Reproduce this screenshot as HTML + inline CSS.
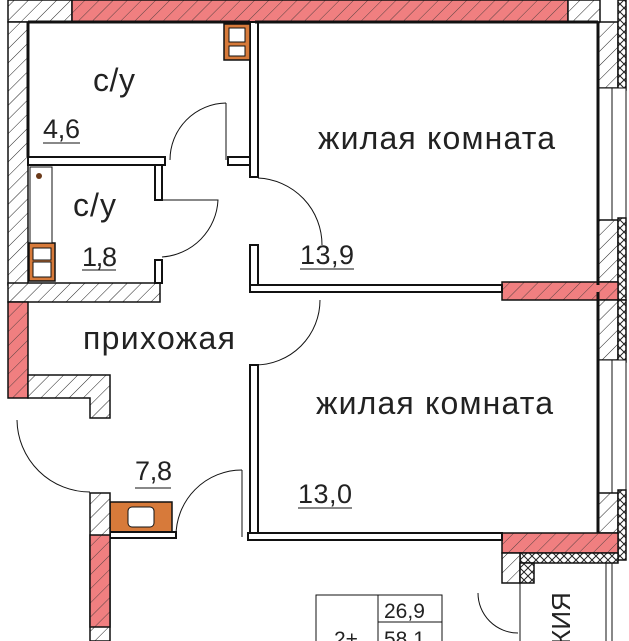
<!DOCTYPE html>
<html><head><meta charset="utf-8"><style>
html,body{margin:0;padding:0;background:#fff;width:629px;height:641px;overflow:hidden}
svg{display:block}
svg text{font-family:"Liberation Sans",sans-serif;fill:#222}
</style></head><body>
<svg width="629" height="641" viewBox="0 0 629 641" xmlns="http://www.w3.org/2000/svg" overflow="hidden">
<defs>
<pattern id="h" patternUnits="userSpaceOnUse" width="10" height="10" patternTransform="rotate(45)">
<rect width="10" height="10" fill="#fff"/><line x1="0" y1="0" x2="0" y2="10" stroke="#222" stroke-width="1"/></pattern>
<pattern id="hr" patternUnits="userSpaceOnUse" width="10" height="10" patternTransform="rotate(45)">
<rect width="10" height="10" fill="#f07f80"/><line x1="0" y1="0" x2="0" y2="10" stroke="#333" stroke-width="0.8"/></pattern>
<pattern id="x" patternUnits="userSpaceOnUse" width="8" height="8">
<rect width="8" height="8" fill="#fff"/><path d="M0 0L8 8M8 0L0 8" stroke="#222" stroke-width="1"/></pattern>
</defs>
<g stroke="#111" stroke-width="1.5">
<rect x="8" y="0" width="64" height="22" fill="url(#h)"/>
<rect x="72" y="0" width="496" height="22" fill="url(#hr)"/>
<rect x="568" y="0" width="32" height="22" fill="url(#h)"/>
<rect x="8" y="22" width="20" height="263" fill="url(#h)"/>
<rect x="8" y="283" width="152" height="19" fill="url(#h)"/>
<rect x="598" y="22" width="20" height="66" fill="url(#h)"/>
<rect x="618" y="0" width="8" height="90" fill="url(#x)"/>
<rect x="598" y="88" width="28" height="132" fill="#fff" stroke-width="1"/>
<line x1="612" y1="88" x2="612" y2="220" stroke-width="1"/>
<rect x="598" y="220" width="20" height="62" fill="url(#h)"/>
<rect x="618" y="218" width="8" height="82" fill="url(#x)"/>
<rect x="502" y="282" width="116" height="18" fill="url(#hr)"/>
<rect x="598" y="300" width="20" height="60" fill="url(#h)"/>
<rect x="618" y="300" width="8" height="62" fill="url(#x)"/>
<rect x="598" y="360" width="28" height="133" fill="#fff" stroke-width="1"/>
<line x1="612" y1="360" x2="612" y2="493" stroke-width="1"/>
<rect x="598" y="493" width="20" height="40" fill="url(#h)"/>
<rect x="618" y="490" width="8" height="70" fill="url(#x)"/>
<rect x="502" y="533" width="116" height="20" fill="url(#hr)"/>
<rect x="520" y="553" width="98" height="10" fill="url(#x)"/>
<rect x="502" y="553" width="18" height="30" fill="url(#h)"/>
<rect x="520" y="563" width="14" height="20" fill="url(#x)"/>
<line x1="612" y1="563" x2="612" y2="641" stroke-width="1"/>
<line x1="606" y1="563" x2="606" y2="641" stroke-width="1"/>
<line x1="520" y1="583" x2="520" y2="641" stroke-width="1"/>
<rect x="250" y="22" width="8" height="155" fill="#fff" stroke-width="2"/>
<rect x="250" y="245" width="8" height="40" fill="#fff" stroke-width="2"/>
<rect x="250" y="285" width="252" height="7" fill="#fff" stroke-width="2"/>
<rect x="250" y="365" width="8" height="175" fill="#fff" stroke-width="2"/>
<rect x="248" y="533" width="254" height="7" fill="#fff" stroke-width="2"/>
<rect x="28" y="157" width="137" height="8" fill="#fff" stroke-width="2"/>
<rect x="228" y="157" width="22" height="8" fill="#fff" stroke-width="2"/>
<rect x="155" y="165" width="7" height="35" fill="#fff" stroke-width="2"/>
<rect x="155" y="260" width="7" height="23" fill="#fff" stroke-width="2"/>
<line x1="28" y1="22" x2="250" y2="22" stroke-width="3"/>
<line x1="28" y1="22" x2="28" y2="157" stroke-width="3"/>
<line x1="255" y1="22" x2="598" y2="22" stroke-width="3"/>
<line x1="598" y1="22" x2="598" y2="285" stroke-width="3"/>
<line x1="598" y1="292" x2="598" y2="533" stroke-width="3"/>
<rect x="224" y="24" width="26" height="36" fill="#d77a3a"/>
<rect x="229" y="28" width="16" height="14" fill="#fff" stroke-width="1"/>
<rect x="229" y="46" width="16" height="10" fill="#fff" stroke-width="1"/>
<rect x="29" y="243" width="26" height="38" fill="#d77a3a"/>
<rect x="33" y="248" width="18" height="12" fill="#fff" stroke-width="1"/>
<rect x="33" y="262" width="18" height="15" fill="#fff" stroke-width="1"/>
<rect x="30" y="167" width="22" height="76" fill="#fff" stroke-width="1"/>
<circle cx="39" cy="176" r="3" fill="#6b3a1a" stroke="none"/>
<rect x="110" y="502" width="62" height="30" fill="#d77a3a"/>
<rect x="128" y="507" width="26" height="20" rx="4" fill="#fff" stroke-width="1"/>
<rect x="110" y="532" width="66" height="6" fill="#fff" stroke-width="2"/>
<rect x="8" y="302" width="20" height="96" fill="url(#hr)"/>
<path d="M28 375H110V418H90V398H28Z" fill="url(#h)"/>
<rect x="90" y="493" width="20" height="148" fill="url(#h)"/>
<rect x="90" y="535" width="20" height="92" fill="url(#hr)"/>
</g>
<g fill="none" stroke="#111" stroke-width="1">
<path d="M226 103A57 57 0 0 0 170 160"/><line x1="226" y1="103" x2="226" y2="160"/>
<path d="M162 200H218A60 60 0 0 1 162 257"/>
<path d="M258 178A67 67 0 0 1 322 245"/>
<path d="M320 300A65 65 0 0 1 255 365"/>
<path d="M17 420A73 73 0 0 0 90 492"/>
<path d="M176 537A66 66 0 0 1 242 470"/><line x1="242" y1="470" x2="242" y2="537"/>
<path d="M478 593A40 40 0 0 0 518 633"/>
<rect x="316" y="595" width="126" height="50"/>
<line x1="378" y1="595" x2="378" y2="641"/><line x1="378" y1="622" x2="442" y2="622"/>
</g>
<g font-size="32">
<text x="93" y="91" textLength="42">с/у</text>
<text x="73" y="216" textLength="43">с/у</text>
<text x="318" y="149" textLength="237">жилая комната</text>
<text x="83" y="349" textLength="152">прихожая</text>
<text x="316" y="414" textLength="237">жилая комната</text>
</g>
<g font-size="27">
<text x="43" y="138" textLength="37">4,6</text>
<text x="82" y="266" textLength="35">1,8</text>
<text x="300" y="264" textLength="54">13,9</text>
<text x="135" y="480" textLength="37">7,8</text>
<text x="298" y="503" textLength="54">13,0</text>
<text x="384" y="618" font-size="21">26,9</text>
<text x="384" y="646" font-size="21">58,1</text>
<text x="334" y="646" font-size="21">2+</text>
<text transform="translate(570,708) rotate(-90)" font-size="26">ЛОДЖИЯ</text>
</g>
<g stroke="#111" stroke-width="1">
<line x1="43" y1="143" x2="80" y2="143"/><line x1="82" y1="270" x2="116" y2="270"/>
<line x1="300" y1="269" x2="354" y2="269"/><line x1="135" y1="488" x2="171" y2="488"/>
<line x1="298" y1="508" x2="352" y2="508"/>
</g>
</svg>
</body></html>
